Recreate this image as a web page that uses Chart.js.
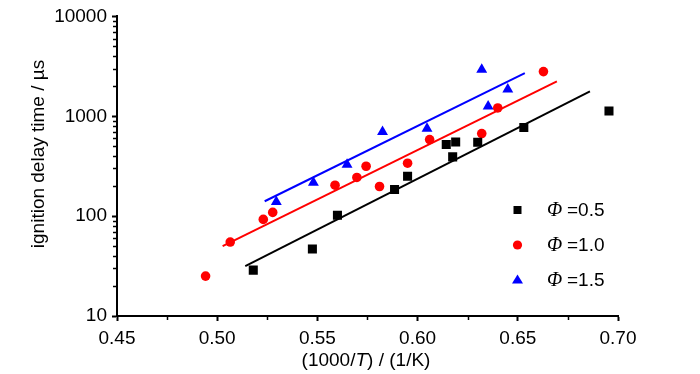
<!DOCTYPE html>
<html>
<head>
<meta charset="utf-8">
<script src="https://cdn.jsdelivr.net/npm/chart.js"></script>
<style>
  body { margin: 0; background: #fff; }
  #wrap { width: 700px; height: 374px; position: relative; }
</style>
</head>
<body>
<div id="wrap"><canvas id="idtChart"></canvas></div>
<script>
// ===== data =====
const phi05X = [0.518, 0.5475, 0.560, 0.5885, 0.595, 0.6143, 0.6175, 0.619, 0.630, 0.653, 0.6955];
const phi05Y = [28.8, 46.8, 102, 185, 251, 521, 392, 553, 550, 771, 1130];

const phi10X = [0.4942, 0.5065, 0.523, 0.5277, 0.5588, 0.5697, 0.5743, 0.581, 0.595, 0.606, 0.632, 0.640, 0.6628];
const phi10Y = [25.1, 55, 92.7, 109, 204, 244, 316, 198, 339, 585, 671, 1211, 2800];

const phi15X = [0.5295, 0.548, 0.5648, 0.5825, 0.6047, 0.632, 0.6352, 0.645];
const phi15Y = [139, 217, 329, 697, 753, 2930, 1259, 1862];

// linear (Arrhenius) fit lines, end points
const fit05X = [0.514, 0.686];
const fit05Y = [31.6, 1778];
const fit10X = [0.5027, 0.6695];
const fit10Y = [50.1, 2239];
const fit15X = [0.5237, 0.6535];
const fit15Y = [141, 2710];

const phiLabels = ['0.5', '1.0', '1.5'];
const xTicks = [0.45, 0.50, 0.55, 0.60, 0.65, 0.70];
const xMinorTicks = [0.475, 0.525, 0.575, 0.625, 0.675];
const yTicks = [10, 100, 1000, 10000];
const yMinorTicks = [20, 30, 40, 50, 60, 70, 80, 90, 200, 300, 400, 500, 600, 700, 800, 900, 2000, 3000, 4000, 5000, 6000, 7000, 8000, 9000];

const FONT = "'Liberation Sans', Arial, sans-serif";
const FS = 19;

const toPts = (xs, ys) => xs.map((x, i) => ({ x, y: ys[i] }));

const scatterSet = (label, xs, ys, color, style, r) => ({
  type: 'scatter', label, data: toPts(xs, ys),
  backgroundColor: color, borderColor: color, borderWidth: 0,
  pointStyle: style, pointRadius: r, pointHoverRadius: r, order: 1
});
const fitSet = (xs, ys, color) => ({
  type: 'line', label: '', data: toPts(xs, ys),
  borderColor: color, borderWidth: 2, pointRadius: 0, fill: false, order: 2
});

// minor ticks, axis titles and the legend (mixed italic text)
const extrasPlugin = {
  id: 'extras',
  afterDraw(chart) {
    const { ctx, chartArea: a, scales: { x, y } } = chart;
    ctx.save();
    ctx.strokeStyle = '#000';
    ctx.lineWidth = 1.5;
    yMinorTicks.forEach(v => {
      const py = Math.round(y.getPixelForValue(v)) + 0.5;
      ctx.beginPath(); ctx.moveTo(a.left - 4, py); ctx.lineTo(a.left, py); ctx.stroke();
    });
    xMinorTicks.forEach(v => {
      const px = Math.round(x.getPixelForValue(v)) + 0.5;
      ctx.beginPath(); ctx.moveTo(px, a.bottom); ctx.lineTo(px, a.bottom + 4); ctx.stroke();
    });

    ctx.fillStyle = '#000';
    ctx.textBaseline = 'middle';

    // x title: (1000/T) / (1/K)
    const parts = [['(1000/', FS + 'px ' + FONT], ['T', 'italic ' + FS + 'px ' + FONT], [') / (1/K)', FS + 'px ' + FONT]];
    let total = 0;
    parts.forEach(p => { ctx.font = p[1]; total += ctx.measureText(p[0]).width; });
    let tx = 366 - total / 2;
    ctx.textAlign = 'left';
    parts.forEach(p => { ctx.font = p[1]; ctx.fillText(p[0], tx, 361); tx += ctx.measureText(p[0]).width; });

    // y title
    ctx.save();
    ctx.translate(39, 154);
    ctx.rotate(-Math.PI / 2);
    ctx.textAlign = 'center';
    ctx.font = FS + 'px ' + FONT;
    ctx.fillText('ignition delay time / \u00b5s', 0, 0);
    ctx.restore();

    // legend
    const colors = ['#000', '#ff0000', '#0000ff'];
    const rows = [210, 245, 280];
    rows.forEach((ly, i) => {
      const mx = 517.5;
      ctx.fillStyle = colors[i];
      ctx.beginPath();
      if (i === 0) ctx.rect(mx - 4, ly - 4, 8, 8);
      else if (i === 1) ctx.arc(mx, ly, 4.6, 0, Math.PI * 2);
      else { ctx.moveTo(mx, ly - 5.5); ctx.lineTo(mx + 5.5, ly + 3.5); ctx.lineTo(mx - 5.5, ly + 3.5); ctx.closePath(); }
      ctx.fill();
      ctx.fillStyle = '#000';
      ctx.textAlign = 'left';
      ctx.font = 'italic ' + (FS + 1) + 'px "Liberation Serif", "DejaVu Serif", serif';
      ctx.fillText('\u03a6', 547, ly + 1);
      ctx.font = FS + 'px ' + FONT;
      ctx.fillText('=' + phiLabels[i], 567, ly + 1);
    });
    ctx.restore();
  }
};

new Chart(document.getElementById('idtChart'), {
  data: {
    datasets: [
      scatterSet('\u03a6=' + phiLabels[0], phi05X, phi05Y, '#000000', 'rect', 6.4),
      scatterSet('\u03a6=' + phiLabels[1], phi10X, phi10Y, '#ff0000', 'circle', 4.8),
      scatterSet('\u03a6=' + phiLabels[2], phi15X, phi15Y, '#0000ff', 'triangle', 6.3),
      fitSet(fit05X, fit05Y, '#000000'),
      fitSet(fit10X, fit10Y, '#ff0000'),
      fitSet(fit15X, fit15Y, '#0000ff')
    ]
  },
  options: {
    responsive: true,
    maintainAspectRatio: false,
    animation: false,
    layout: { padding: { left: 0, right: 82, top: 16, bottom: 0 } },
    plugins: {
      legend: { display: false },
      tooltip: { enabled: false },
      title: { display: false }
    },
    scales: {
      x: {
        type: 'linear', min: 0.45, max: 0.70,
        afterBuildTicks: s => { s.ticks = xTicks.map(v => ({ value: v })); },
        afterFit: s => { s.height = 58; },
        border: { display: true, color: '#000', width: 2 },
        grid: { drawOnChartArea: false, drawTicks: true, tickLength: 5, tickWidth: 2, tickColor: '#000' },
        ticks: { color: '#000', font: { family: FONT, size: FS }, padding: 6, maxRotation: 0, callback: v => v.toFixed(2) }
      },
      y: {
        type: 'logarithmic', min: 10, max: 10000,
        afterBuildTicks: s => { s.ticks = yTicks.map(v => ({ value: v })); },
        afterFit: s => { s.width = 117; },
        border: { display: true, color: '#000', width: 2 },
        grid: { drawOnChartArea: false, drawTicks: true, tickLength: 5, tickWidth: 2, tickColor: '#000' },
        ticks: { color: '#000', font: { family: FONT, size: FS }, padding: 5, callback: v => String(v) }
      }
    }
  },
  plugins: [extrasPlugin]
});
</script>
</body>
</html>
